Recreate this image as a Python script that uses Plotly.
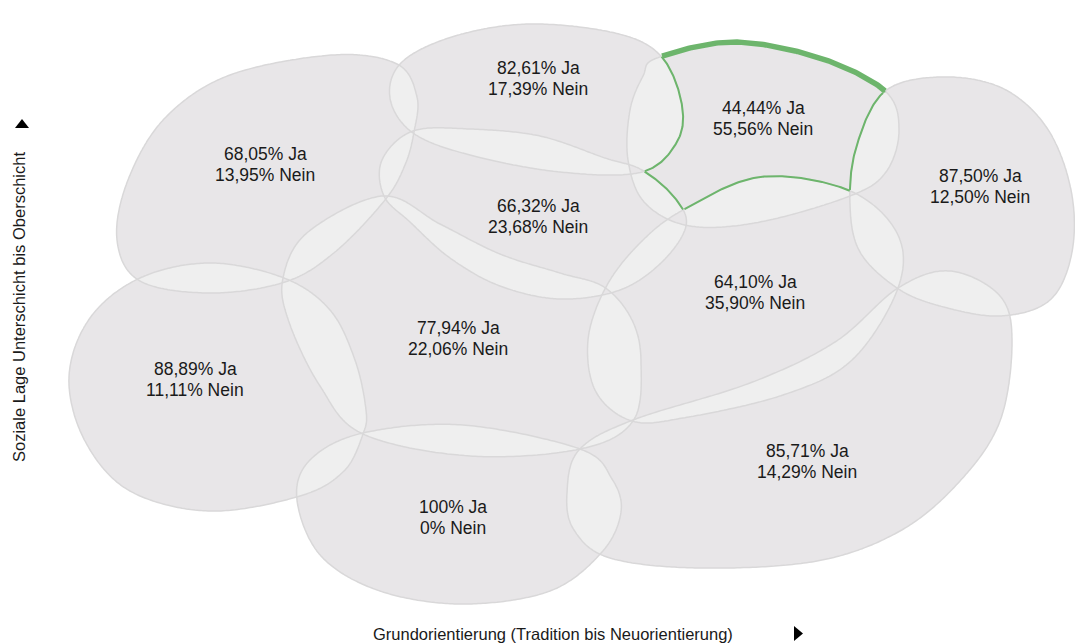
import numpy as np
import plotly.graph_objects as go

# Milieus: result per milieu (Ja / Nein in percent)
milieus = ["A", "B", "C", "F", "D", "E", "G", "L", "I", "H"]
ja_values = [68.05, 82.61, 44.44, 87.50, 66.32, 77.94, 64.10, 88.89, 100, 85.71]
nein_values = [13.95, 17.39, 55.56, 12.50, 23.68, 22.06, 35.90, 11.11, 0, 14.29]
highlight = "C"

x_title = "Grundorientierung (Tradition bis Neuorientierung)"
y_title = "Soziale Lage Unterschicht bis Oberschicht"

# blob outlines (control points, pixel space) and label anchors
blob_points = {
    "A": [(117, 240), (128, 180), (165, 118), (230, 75), (333, 55), (397, 64), (417, 97),
          (414, 132), (405, 165), (385, 200), (335, 252), (285, 282), (210, 293), (140, 281)],
    "B": [(530, 24), (615, 33), (660, 55), (681, 100), (678, 140), (642, 172), (560, 172),
          (470, 155), (413, 133), (390, 98), (402, 62), (455, 36)],
    "C": [(657, 58), (733, 42), (820, 58), (885, 91), (899, 130), (886, 172), (850, 196),
          (760, 222), (690, 226), (645, 203), (628, 160), (630, 110), (643, 76)],
    "F": [(884, 92), (940, 77), (1002, 88), (1047, 128), (1071, 190), (1072, 252),
          (1050, 300), (1000, 316), (940, 306), (897, 288), (860, 252), (850, 205), (856, 148)],
    "D": [(413, 131), (470, 129), (540, 136), (605, 158), (642, 170), (675, 198), (686, 226),
          (662, 262), (620, 290), (560, 299), (500, 286), (450, 258), (410, 222), (384, 196),
          (382, 160)],
    "E": [(283, 278), (308, 232), (383, 196), (440, 224), (500, 254), (560, 273), (604, 287),
          (632, 320), (641, 362), (633, 421), (580, 449), (470, 456), (363, 434), (320, 386),
          (289, 322)],
    "G": [(606, 287), (640, 243), (683, 210), (760, 177), (848, 190), (897, 233), (898, 288),
          (852, 360), (783, 395), (683, 418), (632, 421), (596, 392), (588, 340)],
    "L": [(140, 278), (210, 263), (284, 278), (330, 310), (355, 360), (366, 410), (363, 434),
          (344, 471), (300, 496), (210, 511), (130, 491), (85, 441), (69, 377), (90, 318)],
    "I": [(363, 433), (463, 425), (580, 449), (612, 479), (621, 512), (602, 552), (550, 591),
          (463, 604), (380, 591), (321, 556), (297, 500), (310, 460)],
    "H": [(567, 493), (579, 450), (633, 420), (750, 383), (835, 342), (898, 288), (950, 271),
          (1000, 296), (1012, 343), (1000, 421), (960, 481), (900, 531), (817, 561), (700, 568),
          (610, 558), (574, 530)],
}
label_pos = {
    "A": (265, 164), "B": (538, 78), "C": (763, 118), "F": (980, 186), "D": (538, 216),
    "E": (458, 338), "G": (755, 292), "L": (195, 379), "I": (453, 517), "H": (807, 461),
}

BLOB = "#e8e6e8"
LENS = "#efefef"
EDGE = "#d9d8d9"
GREEN = "#6db56c"
TEXT = "#1a1a1a"


def smooth(pts, n=40):
    p = np.array(pts, dtype=float)
    k = len(p)
    out = []
    for i in range(k):
        p0, p1, p2, p3 = p[(i - 1) % k], p[i], p[(i + 1) % k], p[(i + 2) % k]
        for t in np.linspace(0, 1, n, endpoint=False):
            t2, t3 = t * t, t * t * t
            out.append(0.5 * (2 * p1 + (-p0 + p2) * t + (2 * p0 - 5 * p1 + 4 * p2 - p3) * t2
                              + (-p0 + 3 * p1 - 3 * p2 + p3) * t3))
    return np.array(out)


def inside(pts, poly):
    x, y = poly[:, 0], poly[:, 1]
    x2, y2 = np.roll(x, -1), np.roll(y, -1)
    px, py = pts[:, 0:1], pts[:, 1:2]
    cond = (y > py) != (y2 > py)
    xint = x + (py - y) * (x2 - x) / (y2 - y + 1e-12)
    return ((cond & (px < xint)).sum(axis=1) % 2) == 1


def to_path(c):
    return "M " + " L ".join(f"{a:.1f},{b:.1f}" for a, b in c) + " Z"


def runs(c, mask):
    xs, ys = [], []
    for (a, b), m in zip(c, mask):
        if m:
            xs.append(a)
            ys.append(b)
        elif xs and xs[-1] is not None:
            xs.append(None)
            ys.append(None)
    return xs, ys


curves = {m: smooth(blob_points[m]) for m in milieus}

shapes = []
# light base under everything (shows in overlaps)
for m in milieus:
    shapes.append(dict(type="path", path=to_path(curves[m]), xref="x", yref="y",
                       fillcolor=LENS, line=dict(width=0), layer="below"))
# even-odd fill of all blobs: single coverage dark, overlaps stay light
shapes.append(dict(type="path", path=" ".join(to_path(curves[m]) for m in milieus),
                   xref="x", yref="y", fillcolor=BLOB, fillrule="evenodd",
                   line=dict(width=0), layer="below"))
for m in milieus:
    shapes.append(dict(type="path", path=to_path(curves[m]), xref="x", yref="y",
                       fillcolor="rgba(0,0,0,0)", line=dict(color=EDGE, width=1.5), layer="below"))

# axis arrows
shapes.append(dict(type="path", path="M 15,128 L 29,128 L 22,119 Z", xref="x", yref="y",
                   fillcolor="#000", line=dict(width=0)))
shapes.append(dict(type="path", path="M 794,626 L 794,641 L 803,633.5 Z", xref="x", yref="y",
                   fillcolor="#000", line=dict(width=0)))

fig = go.Figure()

# green outline of highlighted milieu's own area
hc = curves[highlight]
others = [m for m in milieus if m != highlight]
own = np.ones(len(hc), dtype=bool)
for m in others:
    own &= ~inside(hc, curves[m])
gx, gy = runs(hc, own)
fig.add_trace(go.Scatter(x=gx, y=gy, mode="lines", line=dict(color=GREEN, width=5.5),
                         hoverinfo="skip", showlegend=False))
tx, ty = [], []
for m in others:
    c = curves[m]
    mask = inside(c, hc)
    for k in others:
        if k != m:
            mask &= ~inside(c, curves[k])
    xs, ys = runs(c, mask)
    tx += xs + [None]
    ty += ys + [None]
fig.add_trace(go.Scatter(x=tx, y=ty, mode="lines", line=dict(color=GREEN, width=2),
                         hoverinfo="skip", showlegend=False))


def fmt(v):
    return str(int(v)) if float(v).is_integer() else f"{v:.2f}".replace(".", ",")


annotations = []
for m, ja, nein in zip(milieus, ja_values, nein_values):
    x, y = label_pos[m]
    annotations.append(dict(x=x, y=y - 10.5, xref="x", yref="y", showarrow=False,
                            text=f"{fmt(ja)}% Ja", font=dict(size=17.5, color=TEXT)))
    annotations.append(dict(x=x, y=y + 10.5, xref="x", yref="y", showarrow=False,
                            text=f"{fmt(nein)}% Nein", font=dict(size=17.5, color=TEXT)))
annotations.append(dict(x=553, y=634, xref="x", yref="y", showarrow=False, text=x_title,
                        font=dict(size=16.5, color=TEXT)))
annotations.append(dict(x=19, y=307, xref="x", yref="y", showarrow=False, text=y_title,
                        textangle=-90, font=dict(size=16.5, color=TEXT)))

fig.update_layout(
    width=1075, height=644,
    margin=dict(l=0, r=0, t=0, b=0),
    paper_bgcolor="white", plot_bgcolor="white",
    font=dict(family="Liberation Sans, Arial, sans-serif"),
    xaxis=dict(range=[0, 1075], visible=False, fixedrange=True),
    yaxis=dict(range=[644, 0], visible=False, fixedrange=True),
    shapes=shapes, annotations=annotations, showlegend=False,
)

fig.write_html("out.html", config={"displayModeBar": False},
               post_script="document.body.style.margin='0';")
